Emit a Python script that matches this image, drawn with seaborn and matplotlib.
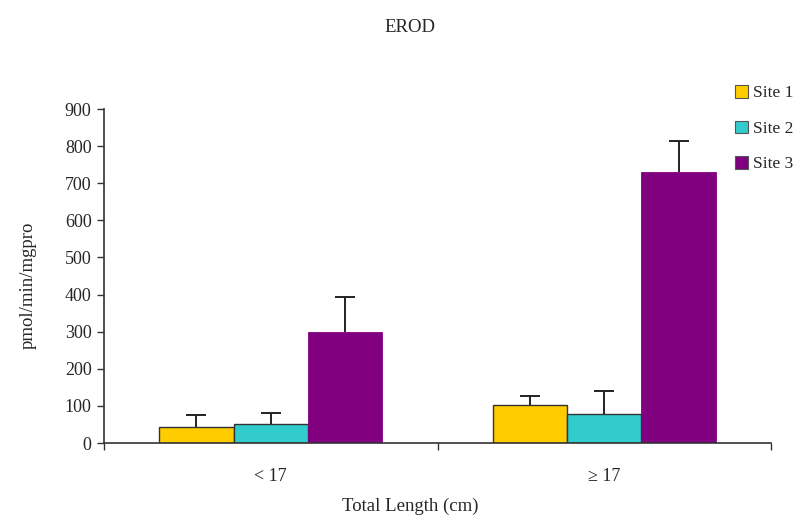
import matplotlib
matplotlib.use("Agg")
import matplotlib.pyplot as plt
import seaborn as sns
import pandas as pd
from matplotlib.patches import Patch

# Mean EROD activity and upper error per length class and site
length_classes = ["< 17", "\u2265 17"]
sites = ["Site 1", "Site 2", "Site 3"]
site1_mean = [44, 102]
site2_mean = [51, 77]
site3_mean = [298, 731]
site1_err = [32, 25]
site2_err = [30, 64]
site3_err = [95, 84]
site_colors = ["#FFCC00", "#33CCCC", "#800080"]

means = [site1_mean, site2_mean, site3_mean]
errs = [site1_err, site2_err, site3_err]

rows = []
for s, m in zip(sites, means):
    for c, v in zip(length_classes, m):
        rows.append({"Total Length (cm)": c, "Site": s, "value": v})
df = pd.DataFrame(rows)

sns.set_theme(style="white")
plt.rcParams["font.family"] = ["Liberation Serif", "DejaVu Serif"]

W, H = 798, 519
fig = plt.figure(figsize=(W / 100, H / 100), dpi=100)
ax = fig.add_axes([104 / W, (H - 443) / H, (771 - 104) / W, (443 - 109) / H])

sns.barplot(data=df, x="Total Length (cm)", y="value", hue="Site",
            order=length_classes, hue_order=sites, palette=site_colors,
            width=0.67, errorbar=None, saturation=1, legend=False, ax=ax)

# one-sided (upper) error bars with a cap
cap_half = 0.03
for container, err, color in zip(ax.containers, errs, site_colors):
    for bar, e in zip(container, err):
        if color == "#800080":
            bar.set_edgecolor("#800080")
            bar.set_linewidth(0.6)
        else:
            bar.set_edgecolor("#333333")
            bar.set_linewidth(1.0)
        xc = bar.get_x() + bar.get_width() / 2
        h = bar.get_height()
        ax.plot([xc, xc], [h, h + e], color="#222222", lw=1.4, zorder=3,
                solid_capstyle="butt")
        ax.plot([xc - cap_half, xc + cap_half], [h + e, h + e], color="#222222",
                lw=1.4, zorder=3, solid_capstyle="butt")

ax.set_ylim(0, 900)
ax.set_xlim(-0.5, 1.5)
ax.set_yticks(range(0, 901, 100))
ax.set_xticks([-0.5, 0.5, 1.5], minor=True)
ax.set_xticks([0, 1])
ax.set_xticklabels(length_classes)
ax.tick_params(axis="x", which="major", length=0, pad=18, labelsize=13)
ax.tick_params(axis="x", which="minor", length=5, width=1, color="#333333", direction="out", bottom=True)
ax.tick_params(axis="y", length=5, width=1, color="#333333", direction="out", left=True, labelsize=13, pad=4)

for side in ["top", "right"]:
    ax.spines[side].set_visible(False)
for side in ["left", "bottom"]:
    ax.spines[side].set_color("#333333")
    ax.spines[side].set_linewidth(1.2)

ax.set_xlabel("")
ax.set_ylabel("")
fig.text(410 / W, 1 - 506 / H, "Total Length (cm)", ha="center", va="center", fontsize=13.5)
fig.text(28 / W, 1 - 285 / H, "pmol/min/mgpro", ha="center", va="center",
         rotation=90, fontsize=13.5)
fig.text(410 / W, 1 - 27 / H, "EROD", ha="center", va="center", fontsize=13.5)

handles = [Patch(facecolor=c, edgecolor="#555555", linewidth=0.8) for c in site_colors]
leg = fig.legend(handles, sites, loc="upper left", bbox_to_anchor=(735 / W, 1 - 85 / H),
                 frameon=False, fontsize=12.5, handlelength=0.75, handleheight=0.75,
                 handletextpad=0.3, labelspacing=1.1, borderpad=0, borderaxespad=0)

fig.savefig("out.png", dpi=100)
